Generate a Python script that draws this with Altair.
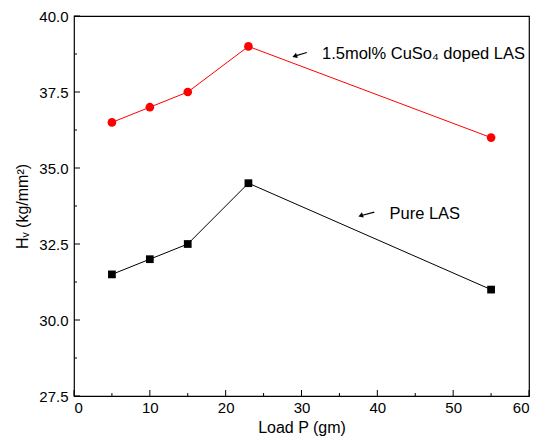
import altair as alt
import pandas as pd

load = [5, 10, 15, 23, 55]
cuso4_hv = [36.5, 37.0, 37.5, 39.0, 36.0]
pure_hv = [31.5, 32.0, 32.5, 34.5, 31.0]

x_major = [0, 10, 20, 30, 40, 50, 60]
x_minor = [5, 15, 25, 35, 45, 55]
y_major = [27.5, 30.0, 32.5, 35.0, 37.5, 40.0]
y_minor = [28.75, 31.25, 33.75, 36.25, 38.75]

W, H = 455, 380
FONT = "Liberation Sans"

df = pd.DataFrame({
    "load": load * 2,
    "hv": cuso4_hv + pure_hv,
    "series": ["cuso4"] * len(load) + ["pure"] * len(load),
})

xs = alt.Scale(domain=[0, 60], nice=False, zero=False)
ys = alt.Scale(domain=[27.5, 40], nice=False, zero=False)

xax = alt.Axis(values=x_major, format="d", ticks=False, domain=False, grid=False,
               labelFontSize=15, labelFont=FONT, labelColor="black", labelPadding=4,
               title="Load P (gm)", titleFontSize=16, titleFont=FONT,
               titleFontWeight="normal", titleColor="black", titlePadding=4)
yax = alt.Axis(values=y_major, format=".1f", ticks=False, domain=False, grid=False,
               labelFontSize=15, labelFont=FONT, labelColor="black", labelPadding=6,
               title="Hᵥ (kg/mm²)", titleFontSize=16, titleFont=FONT,
               titleFontWeight="normal", titleColor="black", titlePadding=8)

base = alt.Chart(df)

red = base.transform_filter(alt.datum.series == "cuso4")
blk = base.transform_filter(alt.datum.series == "pure")

red_line = red.mark_line(color="red", strokeWidth=1).encode(
    x=alt.X("load:Q", scale=xs, axis=xax), y=alt.Y("hv:Q", scale=ys, axis=yax))
red_pts = red.mark_point(shape="circle", filled=True, color="red", size=75, opacity=1).encode(
    x=alt.X("load:Q", scale=xs), y=alt.Y("hv:Q", scale=ys))
blk_line = blk.mark_line(color="black", strokeWidth=1).encode(
    x=alt.X("load:Q", scale=xs), y=alt.Y("hv:Q", scale=ys))
blk_pts = blk.mark_point(shape="square", filled=True, color="black", size=60, opacity=1).encode(
    x=alt.X("load:Q", scale=xs), y=alt.Y("hv:Q", scale=ys))

# inward ticks
xmaj = alt.Chart(pd.DataFrame({"v": x_major})).mark_rule(color="black", strokeWidth=1).encode(
    x=alt.X("v:Q", scale=xs), y=alt.value(H), y2=alt.value(H - 6))
xmin = alt.Chart(pd.DataFrame({"v": x_minor})).mark_rule(color="black", strokeWidth=1).encode(
    x=alt.X("v:Q", scale=xs), y=alt.value(H), y2=alt.value(H - 3))
ymaj = alt.Chart(pd.DataFrame({"v": y_major})).mark_rule(color="black", strokeWidth=1).encode(
    y=alt.Y("v:Q", scale=ys), x=alt.value(0), x2=alt.value(6))
ymin = alt.Chart(pd.DataFrame({"v": y_minor})).mark_rule(color="black", strokeWidth=1).encode(
    y=alt.Y("v:Q", scale=ys), x=alt.value(0), x2=alt.value(3))

ann = pd.DataFrame({
    "label": ["1.5mol% CuSo₄ doped LAS", "Pure LAS"],
    "x": [32.7, 41.6],
    "y": [38.75, 33.5],
    "ax1": [29.1, 37.8],
    "ax2": [30.7, 39.6],
    "ay1": [38.68, 33.43],
    "ay2": [38.8, 33.55],
})
ann_text = alt.Chart(ann).mark_text(align="left", baseline="middle", fontSize=16.5,
                                    font=FONT, color="black").encode(
    x=alt.X("x:Q", scale=xs), y=alt.Y("y:Q", scale=ys), text="label:N")
ann_rule = alt.Chart(ann).mark_rule(color="black", strokeWidth=1.2).encode(
    x=alt.X("ax1:Q", scale=xs), x2="ax2:Q", y=alt.Y("ay1:Q", scale=ys), y2="ay2:Q")
ann_head = alt.Chart(ann).mark_point(shape="triangle-left", filled=True, color="black",
                                     size=30, opacity=1, angle=340).encode(
    x=alt.X("ax1:Q", scale=xs), y=alt.Y("ay1:Q", scale=ys))

chart = alt.layer(
    red_line, blk_line, red_pts, blk_pts,
    xmaj, xmin, ymaj, ymin,
    ann_rule, ann_head, ann_text,
).properties(
    width=W, height=H,
    background="white",
    autosize=alt.AutoSizeParams(type="none"),
    padding={"left": 66, "top": 8, "right": 8, "bottom": 40},
).configure_view(stroke="black", strokeWidth=1.2)

chart.save("out.html", embed_options={"renderer": "svg", "actions": False})
